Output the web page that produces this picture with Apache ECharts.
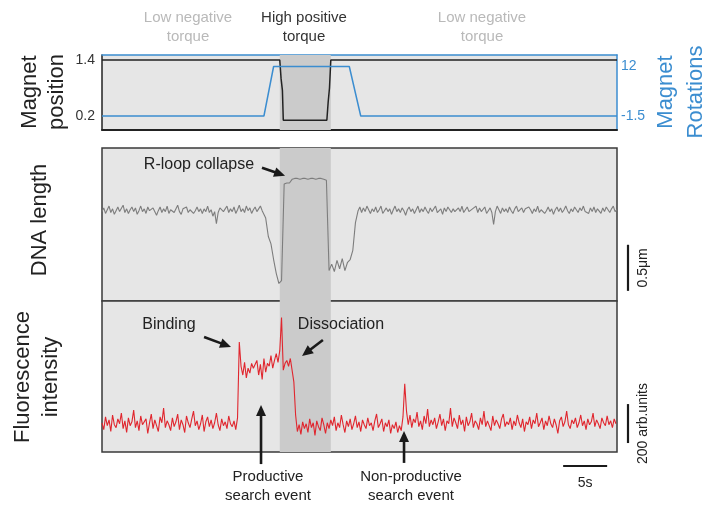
<!DOCTYPE html>
<html>
<head>
<meta charset="utf-8">
<script src="https://cdn.jsdelivr.net/npm/echarts@6/dist/echarts.min.js"></script>
<style>
  html, body { margin: 0; padding: 0; background: #fff; }
  #chart { width: 707px; height: 507px; }
</style>
</head>
<body>
<div id="chart"></div>
<script>
// ---- time base (seconds) ----
const fineStep = 0.2;     // sampling of the quiet stretches
const coarseStep = 0.3;   // sampling of the DNA transitions
const totalTime = 58.52;
const highTorqueWindow = [20.2, 26.0];

// ---- magnet traces (top panel) ----
const magnetPosTime  = [0, 20.2, 20.35, 20.5, 20.6, 25.55, 25.7, 25.85, 26.0, totalTime];
const magnetPosValue = [1.4, 1.4, 1.0, 0.75, 0.11, 0.11, 0.5, 0.8, 1.4, 1.4];
const magnetRotTime  = [0, 18.4, 19.5, 28.1, 29.4, totalTime];
const magnetRotValue = [-1.5, -1.5, 12, 12, -1.5, -1.5];
const posTicks = [0.2, 1.4];
const rotTicks = [-1.5, 12];

// ---- DNA length (µm), recorded in segments with their start times ----
const dnaFlatBeforeStart = 0;
const dnaFlatBefore = [
  0.97,1.01,0.95,0.99,1.03,0.96,1.00,0.94,0.98,1.02,
  0.97,0.99,1.04,0.96,1.00,0.95,0.99,1.02,0.97,1.01,
  0.94,0.98,1.03,0.97,1.00,0.95,1.02,0.98,0.96,1.01,
  0.99,0.93,0.98,1.02,0.96,1.00,0.97,1.03,0.95,0.99,
  1.01,0.96,0.98,1.04,0.97,0.94,1.00,0.98,1.02,0.96,
  0.99,1.01,0.95,0.98,1.02,0.97,1.00,0.95,1.00,0.97,
  1.03,0.96,0.99,0.92,0.97,0.84,0.96,1.01,1.00,0.97,
  0.99,1.03,0.96,1.00,0.97,1.02,0.95,0.99,1.04,0.97,
  1.00,0.96,1.03,0.98,1.01,0.95,0.99,1.02,0.97,1.00,
  1.03,0.98,0.99
];
const dnaDipStart = 18.6;
const dnaDip = [0.90, 0.70, 0.62, 0.45, 0.30, 0.19, 0.22];
const dnaCollapseStart = 20.7;
const dnaCollapse = [1.27,1.28,1.28,1.32,1.33,1.33,1.32,1.33,1.33,1.32,1.33,1.33,1.32,1.33,1.33,1.32,1.31];
const dnaLowAfterStart = 25.8;
const dnaLowAfter = [0.33, 0.40, 0.32, 0.44, 0.35, 0.46, 0.33, 0.42, 0.45];
const dnaRecoveryStart = 28.5;
const dnaRecovery = [0.55, 0.85];
const dnaFlatAfterStart = 29.1;
const dnaFlatAfter = [
  0.98,1.02,0.96,1.01,0.97,1.03,0.99,0.95,1.00,0.97,
  1.02,0.96,0.99,1.03,0.95,0.98,1.01,0.97,1.00,0.94,
  0.99,1.03,0.97,1.00,0.96,1.01,0.98,0.93,0.99,1.02,
  0.97,1.00,0.95,0.99,1.03,0.96,1.00,0.97,1.02,0.98,
  0.95,1.01,0.97,0.99,1.03,0.96,0.98,1.00,0.94,1.01,
  0.97,1.02,0.99,0.96,1.00,0.97,0.98,1.01,0.97,1.03,
  0.96,0.99,1.02,0.97,0.95,1.00,0.98,1.03,0.96,1.01,
  0.97,0.99,1.02,0.95,0.98,1.01,0.96,0.83,0.97,1.03,
  0.99,0.95,1.01,0.97,1.00,0.96,1.02,0.98,0.95,1.00,
  1.03,0.97,0.99,1.01,0.96,1.00,0.98,1.02,0.99,0.95,
  1.00,0.97,1.03,0.96,0.99,1.01,0.95,0.98,1.02,0.97,
  1.00,0.94,0.99,1.02,0.97,1.01,0.96,0.99,1.03,0.98,
  0.95,1.00,0.97,1.02,0.99,0.96,1.01,0.98,1.03,0.97,
  0.99,0.95,1.01,0.97,1.02,0.96,1.00,0.98,0.95,1.01,
  0.97,1.02,0.99,0.96,1.00,1.03,0.97,0.99
];

// ---- fluorescence intensity (arb. units) ----
const fluorBeforeStart = 0;
const fluorBefore = [
  150,115,180,135,165,105,190,140,125,170,
  145,200,120,160,100,175,135,155,215,125,
  160,110,185,140,130,170,95,150,195,120,
  165,135,105,180,150,225,125,160,140,110,
  175,130,155,195,115,165,140,100,185,150,
  125,170,210,135,160,115,145,190,105,155,
  180,130,165,120,150,200,140,110,170,135,
  155,120,185,145,130,160,115,175
];
const fluorBoundStart = 15.6;
const fluorBound = [
  565,440,395,460,380,430,405,455,430,420,
  470,395,450,372,480,410,455,440,495,430,
  470,505,460,520,690,420,455,470,440,480,
  470,360,190
];
const fluorAfterStart = 22.2;
const fluorAfter = [
  105,140,90,155,120,145,100,170,125,150,
  85,160,130,110,175,140,95,150,120,165,
  135,180,110,150,125,190,140,100,160,130,
  170,115,145,185,125,155,105,165,140,120,
  175,135,150,110,160,195,125,145,170,105,
  150,130,165,95,140,120,155,100,135,110,
  180,350,210,140,190,125,170,150,205,130,
  160,115,185,145,220,130,165,140,175,120,
  155,195,135,170,110,160,145,225,130,175,
  150,120,190,140,165,105,180,135,155,200,
  125,160,145,115,175,140,210,130,160,150,
  110,185,135,165,145,120,170,195,130,155,
  140,175,115,160,135,190,150,125,170,105,
  155,140,180,120,165,145,200,130,150,175,
  115,160,135,185,145,125,170,140,95,160,
  180,130,155,210,140,120,165,145,175,125,
  150,190,135,160,115,170,140,155,200,130,
  165,145,120,175,150,135,185,140,160,125,
  170,145
];

// ---- helpers ----
const pairs = (ts, vs) => ts.map((t, i) => [t, vs[i]]);
const segment = (start, step, vs) => vs.map((v, k) => [+(start + k * step).toFixed(3), v]);

const dnaData = [].concat(
  segment(dnaFlatBeforeStart, fineStep, dnaFlatBefore),
  segment(dnaDipStart, coarseStep, dnaDip),
  segment(dnaCollapseStart, coarseStep, dnaCollapse),
  segment(dnaLowAfterStart, coarseStep, dnaLowAfter),
  segment(dnaRecoveryStart, coarseStep, dnaRecovery),
  segment(dnaFlatAfterStart, fineStep, dnaFlatAfter)
);
const fluorData = [].concat(
  segment(fluorBeforeStart, fineStep, fluorBefore),
  segment(fluorBoundStart, fineStep, fluorBound),
  segment(fluorAfterStart, fineStep, fluorAfter)
);

const BLUE = '#3b8dd0';
const FONT = "'Liberation Sans', Arial, Helvetica, sans-serif";
const band = {
  silent: true,
  itemStyle: { color: '#cbcbcb', opacity: 1 },
  data: [[{ xAxis: highTorqueWindow[0] }, { xAxis: highTorqueWindow[1] }]]
};

const hiddenX = (g) => ({
  gridIndex: g, type: 'value', min: 0, max: totalTime, show: false
});

const chart = echarts.init(document.getElementById('chart'), null, { renderer: 'canvas' });

chart.setOption({
  animation: false,
  backgroundColor: '#ffffff',
  grid: [
    { left: 102, top: 55, width: 515, height: 75, show: true, backgroundColor: '#e6e6e6', borderWidth: 0 },
    { left: 102, top: 148, width: 515, height: 153, show: true, backgroundColor: '#e6e6e6', borderColor: '#3a3a3a', borderWidth: 1.5 },
    { left: 102, top: 301, width: 515, height: 151, show: true, backgroundColor: '#e6e6e6', borderColor: '#3a3a3a', borderWidth: 1.5 }
  ],
  xAxis: [
    {
      gridIndex: 0, type: 'value', min: 0, max: totalTime, position: 'bottom',
      axisLine: { show: true, onZero: false, lineStyle: { color: '#222', width: 2 } },
      axisTick: { show: false }, axisLabel: { show: false }, splitLine: { show: false }
    },
    {
      gridIndex: 0, type: 'value', min: 0, max: totalTime, position: 'top',
      axisLine: { show: true, onZero: false, lineStyle: { color: BLUE, width: 1.5 } },
      axisTick: { show: false }, axisLabel: { show: false }, splitLine: { show: false }
    },
    hiddenX(1),
    hiddenX(2)
  ],
  yAxis: [
    {
      gridIndex: 0, type: 'value', min: -0.1, max: 1.507, position: 'left',
      axisLine: { show: true, onZero: false, lineStyle: { color: '#222', width: 1.5 } },
      axisTick: { show: false }, splitLine: { show: false },
      axisLabel: {
        customValues: posTicks, margin: 7, color: '#333', fontSize: 14, fontFamily: FONT,
        formatter: (v) => v.toFixed(1)
      }
    },
    {
      gridIndex: 0, type: 'value', min: -5.32, max: 15.14, position: 'right',
      axisLine: { show: true, onZero: false, lineStyle: { color: BLUE, width: 1.5 } },
      axisTick: { show: false }, splitLine: { show: false },
      axisLabel: {
        customValues: rotTicks, margin: 4, color: BLUE, fontSize: 14, fontFamily: FONT,
        formatter: (v) => (Number.isInteger(v) ? String(v) : v.toFixed(1))
      }
    },
    { gridIndex: 1, type: 'value', min: 0, max: 1.66, show: false },
    { gridIndex: 2, type: 'value', min: 0, max: 775, show: false }
  ],
  series: [
    {
      name: 'Magnet position', type: 'line', xAxisIndex: 0, yAxisIndex: 0,
      data: pairs(magnetPosTime, magnetPosValue), symbol: 'none', silent: true,
      lineStyle: { color: '#222', width: 1.5 }, markArea: band, z: 3
    },
    {
      name: 'Magnet rotations', type: 'line', xAxisIndex: 0, yAxisIndex: 1,
      data: pairs(magnetRotTime, magnetRotValue), symbol: 'none', silent: true,
      lineStyle: { color: BLUE, width: 1.5 }, z: 4
    },
    {
      name: 'DNA length', type: 'line', xAxisIndex: 2, yAxisIndex: 2,
      data: dnaData, symbol: 'none', silent: true,
      lineStyle: { color: '#7d7d7d', width: 1.1 }, markArea: band
    },
    {
      name: 'Fluorescence intensity', type: 'line', xAxisIndex: 3, yAxisIndex: 3,
      data: fluorData, symbol: 'none', silent: true,
      lineStyle: { color: '#e0262e', width: 1.1 }, markArea: band
    }
  ]
});

// ---- annotations ----
const px = (xi, yi, t, v) => chart.convertToPixel({ xAxisIndex: xi, yAxisIndex: yi }, [t, v]);

function arrow(tail, head) {
  const dx = head[0] - tail[0], dy = head[1] - tail[1];
  const len = Math.sqrt(dx * dx + dy * dy);
  const ux = dx / len, uy = dy / len;
  const hl = 11, hw = 5;
  const bx = head[0] - ux * hl, by = head[1] - uy * hl;
  return [
    { type: 'line', silent: true, z: 50,
      shape: { x1: tail[0], y1: tail[1], x2: bx + ux * 2, y2: by + uy * 2 },
      style: { stroke: '#1a1a1a', lineWidth: 2.6 } },
    { type: 'polygon', silent: true, z: 50,
      shape: { points: [head, [bx - uy * hw, by + ux * hw], [bx + uy * hw, by - ux * hw]] },
      style: { fill: '#1a1a1a' } }
  ];
}

function label(text, x, y, opts) {
  const o = opts || {};
  return {
    type: 'text', silent: true, z: 60, x: x, y: y, rotation: o.rotation || 0,
    style: {
      text: text, fill: o.color || '#222',
      font: (o.size || 14) + 'px ' + FONT,
      fontSize: o.size || 14, fontFamily: FONT,
      lineHeight: o.lineHeight || Math.round((o.size || 14) * 1.3),
      textAlign: o.align || 'center', align: o.align || 'center',
      textVerticalAlign: 'middle', verticalAlign: 'middle'
    }
  };
}

function bar(p1, p2) {
  return { type: 'line', silent: true, z: 50,
    shape: { x1: p1[0], y1: p1[1], x2: p2[0], y2: p2[1] },
    style: { stroke: '#1a1a1a', lineWidth: 2.2 } };
}

const g = [];
// arrows pointing at features of the traces
g.push(...arrow(px(2, 2, 18.18, 1.446), px(2, 2, 20.8, 1.359)));      // R-loop collapse
g.push(...arrow(px(3, 3, 11.6, 590), px(3, 3, 14.66, 539)));          // binding
g.push(...arrow(px(3, 3, 25.1, 575), px(3, 3, 22.73, 493)));          // dissociation
g.push(...arrow(px(3, 3, 18.07, -62), px(3, 3, 18.07, 241)));         // productive
g.push(...arrow(px(3, 3, 34.32, -56), px(3, 3, 34.32, 108)));         // non-productive

// scale bars
const sA = px(3, 3, 52.4, 0), sB = px(3, 3, 57.4, 0);
g.push(bar([sA[0], 466], [sB[0], 466]));
const dA = px(2, 2, 0, 0.11), dB = px(2, 2, 0, 0.61);
g.push(bar([628, dA[1]], [628, dB[1]]));
const fA = px(3, 3, 0, 46), fB = px(3, 3, 0, 246);
g.push(bar([628, fA[1]], [628, fB[1]]));

// texts
g.push(label('Low negative\ntorque', 188, 27, { color: '#b9b9b9', size: 15, lineHeight: 19 }));
g.push(label('High positive\ntorque', 304, 27, { color: '#333', size: 15, lineHeight: 19 }));
g.push(label('Low negative\ntorque', 482, 27, { color: '#b9b9b9', size: 15, lineHeight: 19 }));

g.push(label('R-loop collapse', 199, 165, { size: 16 }));
g.push(label('Binding', 169, 325, { size: 16 }));
g.push(label('Dissociation', 341, 325, { size: 16 }));
g.push(label('Productive\nsearch event', 268, 486, { size: 15, lineHeight: 19 }));
g.push(label('Non-productive\nsearch event', 411, 486, { size: 15, lineHeight: 19 }));
g.push(label('5s', (sA[0] + sB[0]) / 2, 483, { size: 14 }));
g.push(label('0.5μm', 643, (dA[1] + dB[1]) / 2, { size: 14, rotation: Math.PI / 2 }));
g.push(label('200 arb.units', 643, (fA[1] + fB[1]) / 2, { size: 14, rotation: Math.PI / 2 }));

// panel titles
g.push(label('Magnet\nposition', 43, 92, { size: 22, lineHeight: 27, rotation: Math.PI / 2 }));
g.push(label('DNA length', 40, 220, { size: 22, rotation: Math.PI / 2 }));
g.push(label('Fluorescence\nintensity', 37, 377, { size: 22, lineHeight: 28, rotation: Math.PI / 2 }));
g.push(label('Magnet\nRotations', 681, 92, { size: 22, lineHeight: 30, color: BLUE, rotation: Math.PI / 2 }));

chart.setOption({ graphic: { elements: g } });
</script>
</body>
</html>
